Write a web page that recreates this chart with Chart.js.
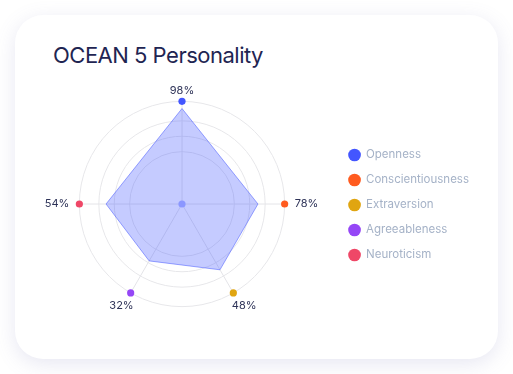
<!DOCTYPE html>
<html><head><meta charset="utf-8">
<script src="https://cdn.jsdelivr.net/npm/chart.js@4.4.1/dist/chart.umd.min.js"></script>
<style>
html,body{margin:0;padding:0;background:#ffffff;width:513px;height:374px;overflow:hidden}
#card{position:absolute;left:15px;top:15px;width:483px;height:344px;border-radius:28px;background:#fff;box-shadow:0 5px 20px rgba(110,110,180,0.17)}
#title{position:absolute;left:53px;top:44px;margin:0;font-family:Inter,"Open Sans",sans-serif;font-weight:400;font-size:22px;line-height:22px;letter-spacing:-0.5px;color:#1f2552;white-space:nowrap}
#wrap{position:absolute;left:15px;top:85px}
</style></head><body>
<div id="card"></div>
<h1 id="title">OCEAN 5 Personality</h1>
<div id="wrap"><canvas id="c" width="464" height="240"></canvas></div>
<script>
// categories (legend) and their point labels, in clockwise order from the top
const traits = ['Openness', 'Conscientiousness', 'Extraversion', 'Agreeableness', 'Neuroticism'];
const traitLabels = ['98%', '78%', '48%', '32%', '54%'];
const traitColors = ['#4356ff', '#ff5b1f', '#e0a511', '#9547f6', '#ef4767'];
// angular position of each axis (degrees clockwise from top)
const axisAngles = [0, 90, 150, 210, 270];
// radial value of the drawn polygon (0-100 scale)
const shapeValues = [93, 74, 74, 64, 74];
// coloured markers sit on the outer ring
const markerValues = [100, 100, 100, 100, 100];
// grid ring values
const gridTicks = [0, 51, 66, 81, 100];

// build a 12-slot (30 degree) table for the radar
const SLOTS = 12;
const slotOf = axisAngles.map(a => Math.round(a / 30) % SLOTS);
const slotLabels = [], slotShape = [], slotMarker = [], slotCenter = [], slotColors = [], slotUsed = [];
for (let s = 0; s < SLOTS; s++) {
  const k = slotOf.indexOf(s);
  slotUsed.push(k >= 0);
  slotLabels.push(k >= 0 ? traitLabels[k] : []);
  slotShape.push(k >= 0 ? shapeValues[k] : null);
  slotMarker.push(k >= 0 ? markerValues[k] : null);
  slotCenter.push(s === 0 ? 0 : null);
  slotColors.push(k >= 0 ? traitColors[k] : 'transparent');
}
function angleOfSlot(i) { return i * 30; }

const FONT = 'Inter, "Open Sans", sans-serif';

new Chart(document.getElementById('c'), {
  type: 'radar',
  data: {
    labels: slotLabels,
    datasets: [
      {
        label: 'shape',
        data: slotShape,
        spanGaps: true,
        fill: 'origin',
        backgroundColor: 'rgba(74,92,255,0.32)',
        borderColor: 'rgba(74,92,255,0.55)',
        borderWidth: 1,
        pointRadius: 0,
        tension: 0
      },
      {
        label: 'markers',
        data: slotMarker,
        showLine: false,
        fill: false,
        borderWidth: 0,
        backgroundColor: 'transparent',
        pointRadius: 3.6,
        pointBorderWidth: 0,
        pointBackgroundColor: slotColors
      },
      {
        label: 'center',
        data: slotCenter,
        showLine: false,
        fill: false,
        borderWidth: 0,
        pointRadius: 3.6,
        pointBorderWidth: 0,
        pointBackgroundColor: '#aab3ff'
      }
    ]
  },
  options: {
    responsive: false,
    animation: false,
    layout: { padding: { left: 13.5, right: 0, top: 0, bottom: 0 } },
    plugins: {
      tooltip: { enabled: false },
      legend: {
        position: 'right',
        align: 'center',
        onClick: null,
        labels: {
          usePointStyle: true,
          pointStyle: 'circle',
          boxWidth: 11.5,
          boxHeight: 9,
          padding: 13.5,
          color: '#a5b2c7',
          font: { family: FONT, size: 11.5 },
          generateLabels: () => traits.map((t, i) => ({
            text: t, fillStyle: traitColors[i], strokeStyle: traitColors[i],
            lineWidth: 0, pointStyle: 'circle', hidden: false, index: i, fontColor: '#a5b2c7'
          }))
        }
      }
    },
    scales: {
      r: {
        min: 0,
        max: 100,
        afterBuildTicks: s => { s.ticks = gridTicks.map(v => ({ value: v })); },
        ticks: { display: false },
        grid: { circular: true, color: '#e7e7ea', lineWidth: 1 },
        angleLines: {
          color: '#e4e4e8',
          lineWidth: ctx => slotUsed[ctx.index] ? 1 : 0
        },
        pointLabels: {
          color: '#2e3358',
          padding: ctx => {
            if (!slotUsed[ctx.index]) return 0;
            const a = angleOfSlot(ctx.index);
            if (a === 0) return 4;
            if (a === 150) return -3;
            if (a === 210) return -6;
            return 10;
          },
          font: ctx => {
            const a = angleOfSlot(ctx.index);
            const lh = a === 150 ? 2.8 : (a === 210 ? 3.3 : 1.2);
            return { family: FONT, size: 11, lineHeight: lh };
          }
        }
      }
    }
  }
});
</script>
</body></html>
